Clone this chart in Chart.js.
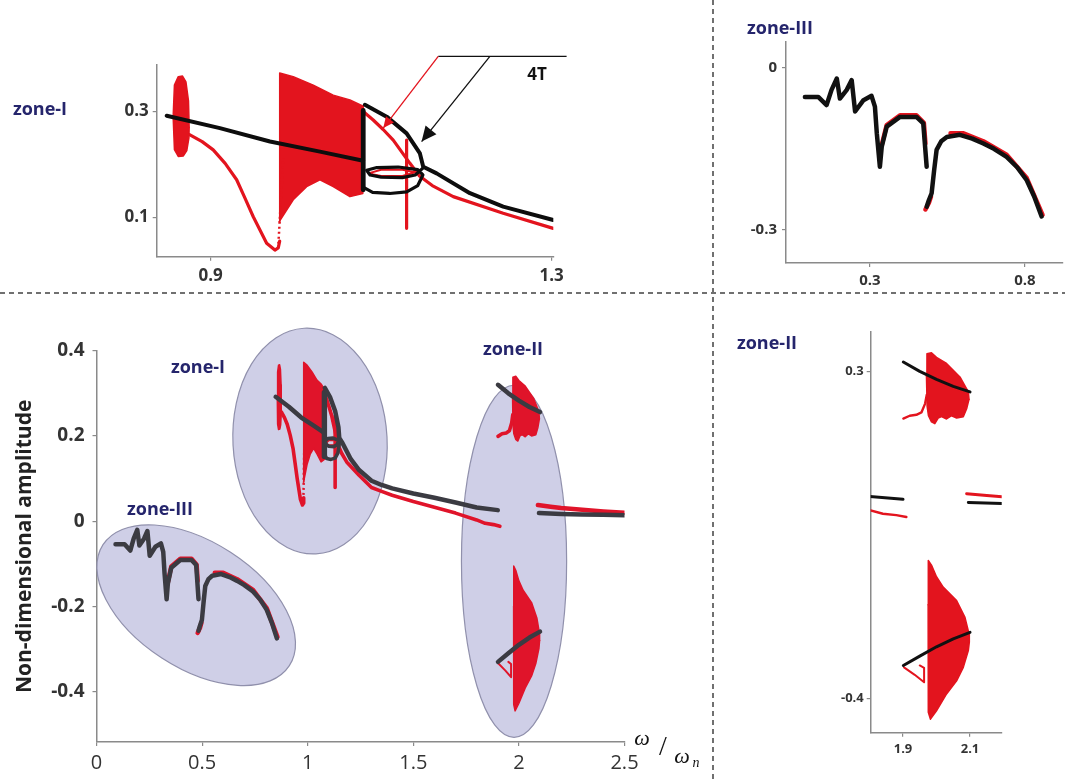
<!DOCTYPE html>
<html>
<head>
<meta charset="utf-8">
<script src="https://cdn.jsdelivr.net/npm/chart.js@4.4.1/dist/chart.umd.min.js"></script>
<style>
  html, body { margin: 0; padding: 0; background: #fff; }
  #page { position: relative; width: 1065px; height: 783px; overflow: hidden; font-family: 'Open Sans', sans-serif; }
  canvas { position: absolute; }
  .zone { position: absolute; transform: translate(-50%, -50%); color: #25256c; font-weight: 700; font-size: 18px; white-space: nowrap; }
  .lbl { position: absolute; transform: translate(-50%, -50%); white-space: nowrap; }
  .omega { font-family: 'Liberation Serif', serif; font-style: italic; color: #111; }
  .dash-h { position: absolute; left: 0; width: 1065px; height: 2px;
            background: repeating-linear-gradient(to right, #707070 0 5px, transparent 5px 9px); }
  .dash-v { position: absolute; top: 0; width: 2px; height: 783px;
            background: repeating-linear-gradient(to bottom, #707070 0 5px, transparent 5px 9px); }
</style>
</head>
<body>
<div id="page">
  <div class="dash-h" style="top:292px"></div>
  <div class="dash-v" style="left:712px"></div>

  <canvas id="mainChart"></canvas>
  <canvas id="zoneIChart"></canvas>
  <canvas id="zoneIIIChart"></canvas>
  <canvas id="zoneIIChart"></canvas>

  <div class="zone" style="left:40px;top:108px">zone-I</div>
  <div class="zone" style="left:780px;top:27px">zone-III</div>
  <div class="zone" style="left:767px;top:342px">zone-II</div>
  <div class="zone" style="left:198px;top:366px">zone-I</div>
  <div class="zone" style="left:160px;top:508px">zone-III</div>
  <div class="zone" style="left:513px;top:348px">zone-II</div>
  <div class="lbl" style="left:537px;top:73px;font-weight:700;font-size:17px;color:#111">4T</div>

  <div class="lbl omega" style="left:642px;top:738px;font-size:22px">ω</div>
  <div class="lbl omega" style="left:663px;top:746px;font-size:28px;font-style:normal">/</div>
  <div class="lbl omega" style="left:682px;top:756px;font-size:22px">ω</div>
  <div class="lbl omega" style="left:696px;top:763px;font-size:14px">n</div>
</div>

<script>
// =========================================
// DATA  (x = ω/ωn, y = non-dimensional amplitude)
// =========================================
// zone-III (low-frequency branch)
const zone3Black = [[0.09,-0.054],[0.133,-0.054],[0.16,-0.069],[0.176,-0.041],[0.193,-0.02],[0.203,-0.057],
  [0.225,-0.041],[0.241,-0.023],[0.252,-0.081],[0.279,-0.060],[0.305,-0.052],[0.316,-0.072],[0.322,-0.121],
  [0.332,-0.183],[0.338,-0.146],[0.354,-0.109],[0.397,-0.091],[0.45,-0.091],[0.472,-0.103],[0.483,-0.183],
  [0.483,null],[0.483,-0.257],[0.49,-0.245],[0.499,-0.232],[0.507,-0.19],[0.515,-0.152],[0.53,-0.136],
  [0.548,-0.128],[0.59,-0.124],[0.63,-0.131],[0.666,-0.140],[0.70,-0.150],[0.741,-0.165],[0.775,-0.184],
  [0.806,-0.208],[0.83,-0.238],[0.854,-0.275]];
const zone3Red = [[0.338,-0.143],[0.354,-0.106],[0.397,-0.088],[0.45,-0.088],[0.474,-0.102],[0.479,-0.14],
  [0.479,null],[0.479,-0.262],[0.49,-0.25],[0.497,-0.238],[0.497,null],[0.56,-0.121],[0.6,-0.121],
  [0.666,-0.136],[0.741,-0.161],[0.806,-0.204],[0.857,-0.272]];

// zone-I (primary resonance)
const zone1Blob1Upper = [[0.856,0.29],[0.8575,0.35],[0.862,0.366],[0.867,0.367],[0.871,0.356],[0.874,0.32],[0.8748,0.27]];
const zone1Blob1Lower = [[0.856,0.29],[0.8575,0.228],[0.862,0.215],[0.868,0.216],[0.872,0.226],[0.8745,0.25],[0.8748,0.27]];
const zone1BandUpper = [[0.9805,0.0917],[0.981,0.3727],[0.9969,0.366],[1.0204,0.35],[1.0438,0.331],[1.0634,0.322],[1.079,0.31]];
const zone1BandLower = [[0.9805,0.0917],[0.9969,0.133],[1.0126,0.158],[1.0282,0.171],[1.0438,0.158],[1.0634,0.139],[1.0785,0.145],[1.079,0.31]];
const zone1Red = [[0.8757,0.256],[0.89,0.243],[0.903,0.2275],[0.917,0.202],[0.9305,0.171],[0.94,0.137],
  [0.95,0.101],[0.9657,0.051],[0.9754,0.038],[0.9793,0.042],[0.981,0.055]];
const zone1RedDots = [[0.9795,0.05],[0.9852,0.212]];
const zone1RedUpper = [[1.079,0.30],[1.0907,0.284],[1.1024,0.266],[1.1142,0.246],[1.1338,0.202],[1.145,0.178],
  [1.16,0.16],[1.1846,0.139],[1.2432,0.1076],[1.3019,0.079],[1.35,0.07],[1.4,0.061],[1.5,0.046],[1.6,0.033],
  [1.7,0.019],[1.8,0.003],[1.84,-0.005],[1.88,-0.008],[1.91,-0.012]];
const zone1RedSpike = [[1.1299,0.246],[1.1299,0.079]];
const zone1RedLoop = [[1.085,0.183],[1.1,0.19],[1.125,0.19],[1.14,0.185],[1.125,0.178],[1.1,0.178],[1.085,0.183]];
const zone1Black = [[0.8484,0.2919],[0.9108,0.2686],[0.9696,0.2432],[1.0282,0.2242],[1.079,0.207]];
const zone1BlackJump = [[1.079,0.302],[1.079,0.152]];
const zone1BlackLoops = [[1.081,0.155],[1.09,0.147],[1.11,0.145],[1.13,0.148],[1.143,0.16],[1.149,0.18],
  [1.143,0.19],[1.12,0.195],[1.095,0.194],[1.083,0.189],[1.087,0.18],[1.1,0.176],[1.125,0.175],[1.14,0.18],[1.149,0.193]];
const zone1BlackUpper = [[1.081,0.3127],[1.1065,0.2903],[1.1299,0.2587],[1.1455,0.2208],[1.1494,0.1956],
  [1.1651,0.183],[1.2042,0.1455],[1.2432,0.12],[1.3019,0.0949],[1.35,0.085],[1.4,0.077],[1.5,0.065],
  [1.6,0.055],[1.7,0.044],[1.8,0.032],[1.9,0.026]];

// zone-II (region near 2)
const zone2TopUpper = [[1.970,0.29],[1.9715,0.338],[1.985,0.34],[2.0,0.33],[2.03,0.317],[2.07,0.288],[2.095,0.256],[2.097,0.24]];
const zone2TopLower = [[1.970,0.29],[1.972,0.225],[1.976,0.205],[1.985,0.192],[1.995,0.188],[2.005,0.2],[2.015,0.203],
  [2.03,0.198],[2.045,0.205],[2.06,0.2],[2.08,0.203],[2.09,0.22],[2.097,0.24]];
const zone2BotUpper = [[1.975,-0.2],[1.9755,-0.105],[1.985,-0.115],[2.0,-0.14],[2.02,-0.162],[2.06,-0.191],
  [2.085,-0.227],[2.097,-0.262],[2.098,-0.28]];
const zone2BotLower = [[1.975,-0.2],[1.9755,-0.43],[1.982,-0.445],[2.0,-0.427],[2.03,-0.391],[2.06,-0.363],
  [2.08,-0.334],[2.095,-0.298],[2.098,-0.28]];
const zone2RedRight = [[2.09,0.038],[2.15,0.034],[2.2,0.031],[2.3,0.027],[2.4,0.023],[2.5,0.02]];
const zone2RedTail = [[1.901,0.199],[1.92,0.205],[1.94,0.207],[1.955,0.212],[1.966,0.231],[1.971,0.25]];
const zone2RedTriangle = [[1.903,-0.334],[1.935,-0.35],[1.963,-0.366],[1.963,-0.335],[1.95,-0.33]];
const zone2BlackRight = [[2.095,0.019],[2.2,0.017],[2.3,0.016],[2.4,0.015],[2.5,0.014]];
const zone2BlackTop = [[1.901,0.32],[1.95,0.30],[2.0,0.283],[2.05,0.268],[2.1,0.256]];
const zone2BlackBottom = [[1.901,-0.33],[1.95,-0.31],[2.0,-0.29],[2.05,-0.273],[2.1,-0.259]];

// shaded zones on the overview plot: centre in data units, half-axes in axis units, tilt in degrees
const zoneEllipses = [
  { cx: 0.472, cy: -0.197, rx: 0.526, ry: 0.148, rot: 33 },
  { cx: 1.011, cy: 0.188, rx: 0.365, ry: 0.265, rot: -3 },
  { cx: 1.977, cy: -0.094, rx: 0.249, ry: 0.413, rot: 0 }
];

// 4T callout on the zone-I zoom
const calloutLine = [[1.167,0.4042],[1.3176,0.4042]];
const redArrow = [[1.167,0.4042],[1.1025,0.2686]];
const blackArrow = [[1.2276,0.4042],[1.1475,0.2432]];

// tick labels
const mainXTicks = [0, 0.5, 1, 1.5, 2, 2.5];
const mainYTicks = [-0.4, -0.2, 0, 0.2, 0.4];
const zoneIXTicks = [0.9, 1.3];
const zoneIYTicks = [0.1, 0.3];
const zoneIIIXTicks = [0.3, 0.8];
const zoneIIIYTicks = [-0.3, 0];
const zoneIIXTicks = [1.9, 2.1];
const zoneIIYTicks = [-0.4, 0.3];

// =========================================
// HELPERS
// =========================================
const RED = '#e3141e';
const FONT = "'Open Sans', sans-serif";

const pts = arr => arr.map(([x, y]) => ({ x, y }));

function line(arr, color, width, extra) {
  return Object.assign({
    data: pts(arr), borderColor: color, backgroundColor: color, borderWidth: width,
    pointRadius: 0, tension: 0, fill: false, borderJoinStyle: 'round', borderCapStyle: 'round'
  }, extra || {});
}

function blob(upper, lower, color) {
  return [line(upper, color, 1.5), line(lower, color, 1.5, { fill: '-1' })];
}

// Chart.js paints the last dataset first, so black goes first (on top) and the red bands last
function curveSets(red, black, w) {
  return [
    line(zone3Black, black, w),
    line(zone2BlackBottom, black, w),
    line(zone2BlackTop, black, w),
    line(zone2BlackRight, black, w),
    line(zone1BlackUpper, black, w),
    line(zone1BlackLoops, black, w * 0.8),
    line(zone1BlackJump, black, w * 1.2),
    line(zone1Black, black, w),
    line(zone3Red, red, w),
    line(zone2RedTriangle, red, 2),
    line(zone2RedTail, red, w * 0.8),
    line(zone2RedRight, red, w),
    line(zone1RedLoop, red, 2),
    line(zone1RedSpike, red, w * 0.8),
    line(zone1RedUpper, red, w * 0.8),
    line(zone1RedDots, red, 2.5, { borderDash: [2, 3], borderCapStyle: 'butt' }),
    line(zone1Red, red, w * 0.8),
    ...blob(zone2BotUpper, zone2BotLower, red),
    ...blob(zone2TopUpper, zone2TopLower, red),
    ...blob(zone1BandUpper, zone1BandLower, red),
    ...blob(zone1Blob1Upper, zone1Blob1Lower, red)
  ];
}

function axis(min, max, ticks, size, font, pad, extra) {
  return Object.assign({
    type: 'linear', min, max,
    afterBuildTicks: s => { s.ticks = ticks.map(v => ({ value: v })); },
    afterFit: s => {
      if (s.isHorizontal()) s.height = size; else s.width = size;
      s.paddingLeft = s.paddingRight = s.paddingTop = s.paddingBottom = 0;
    },
    grid: { drawOnChartArea: false, drawTicks: true, tickLength: 4, color: '#8a8a8a', lineWidth: 1.2 },
    border: { display: true, color: '#8a8a8a', width: 1.5 },
    ticks: { font, color: '#333', padding: pad, maxRotation: 0, autoSkip: false, callback: v => String(v) }
  }, extra || {});
}

function makeChart(id, rect, area, xCfg, yCfg, datasets, plugins) {
  const cv = document.getElementById(id);
  cv.width = rect.w; cv.height = rect.h;
  cv.style.left = rect.x + 'px'; cv.style.top = rect.y + 'px';
  const xs = axis(xCfg.min, xCfg.max, xCfg.ticks, rect.y + rect.h - area.bottom, xCfg.font, xCfg.pad);
  const ys = axis(yCfg.min, yCfg.max, yCfg.ticks, area.left - rect.x, yCfg.font, yCfg.pad, yCfg.extra);
  return new Chart(cv, {
    type: 'line',
    data: { datasets },
    options: {
      responsive: false, animation: false, events: [],
      layout: { padding: { left: 0, top: area.top - rect.y, right: rect.x + rect.w - area.right, bottom: 0 } },
      plugins: { legend: { display: false }, tooltip: { enabled: false } },
      scales: { x: xs, y: ys }
    },
    plugins: plugins || []
  });
}

const ellipsePlugin = {
  id: 'zoneEllipses',
  beforeDatasetsDraw(chart) {
    const { ctx, scales: { x, y } } = chart;
    const pxX = Math.abs(x.getPixelForValue(1) - x.getPixelForValue(0));
    const pxY = Math.abs(y.getPixelForValue(0) - y.getPixelForValue(1));
    ctx.save();
    zoneEllipses.forEach(e => {
      ctx.beginPath();
      ctx.ellipse(x.getPixelForValue(e.cx), y.getPixelForValue(e.cy), e.rx * pxX, e.ry * pxY,
        e.rot * Math.PI / 180, 0, 2 * Math.PI);
      ctx.fillStyle = '#cfcfe7';
      ctx.fill();
      ctx.strokeStyle = '#9090ac';
      ctx.lineWidth = 1.2;
      ctx.stroke();
    });
    ctx.restore();
  }
};

function drawArrow(ctx, from, to, color, len, half) {
  const ang = Math.atan2(to[1] - from[1], to[0] - from[0]);
  ctx.strokeStyle = color; ctx.fillStyle = color;
  ctx.beginPath(); ctx.moveTo(from[0], from[1]); ctx.lineTo(to[0], to[1]); ctx.stroke();
  ctx.beginPath();
  ctx.moveTo(to[0], to[1]);
  ctx.lineTo(to[0] - len * Math.cos(ang) + half * Math.sin(ang), to[1] - len * Math.sin(ang) - half * Math.cos(ang));
  ctx.lineTo(to[0] - len * Math.cos(ang) - half * Math.sin(ang), to[1] - len * Math.sin(ang) + half * Math.cos(ang));
  ctx.closePath(); ctx.fill();
}

const calloutPlugin = {
  id: 'callout4T',
  afterDatasetsDraw(chart) {
    const { ctx, scales: { x, y } } = chart;
    const P = ([a, b]) => [x.getPixelForValue(a), y.getPixelForValue(b)];
    ctx.save();
    ctx.lineWidth = 1.3;
    const a = P(calloutLine[0]), b = P(calloutLine[1]);
    ctx.strokeStyle = '#111';
    ctx.beginPath(); ctx.moveTo(a[0], a[1]); ctx.lineTo(b[0], b[1]); ctx.stroke();
    drawArrow(ctx, P(redArrow[0]), P(redArrow[1]), RED, 11, 5);
    drawArrow(ctx, P(blackArrow[0]), P(blackArrow[1]), '#111', 15, 7);
    ctx.restore();
  }
};

// =========================================
// CHARTS
// =========================================
// overview
makeChart('mainChart',
  { x: 0, y: 300, w: 705, h: 483 },
  { left: 96.5, top: 350.7, right: 624.5, bottom: 742 },
  { min: 0, max: 2.5, ticks: mainXTicks, font: { family: FONT, size: 20 }, pad: 5 },
  { min: -0.518, max: 0.4, ticks: mainYTicks, font: { family: FONT, size: 19, weight: 'bold' }, pad: 8,
    extra: { title: { display: true, text: 'Non-dimensional amplitude', color: '#222',
      font: { family: FONT, size: 21, weight: 'bold' }, padding: { top: 12, bottom: 0 } } } },
  curveSets('#e0142a', '#3b3b42', 4.5),
  [ellipsePlugin]);

// zone-I zoom
makeChart('zoneIChart',
  { x: 0, y: 0, w: 600, h: 291 },
  { left: 156.7, top: 65, right: 553.3, bottom: 256.7 },
  { min: 0.8367, max: 1.302, ticks: zoneIXTicks, font: { family: FONT, size: 17, weight: 'bold' }, pad: 5 },
  { min: 0.0254, max: 0.388, ticks: zoneIYTicks, font: { family: FONT, size: 17, weight: 'bold' }, pad: 4 },
  curveSets(RED, '#0d0d0d', 4),
  [calloutPlugin]);

// zone-III zoom
makeChart('zoneIIIChart',
  { x: 715, y: 0, w: 350, h: 290 },
  { left: 786, top: 42, right: 1063, bottom: 263 },
  { min: 0.029, max: 0.923, ticks: zoneIIIXTicks, font: { family: FONT, size: 15, weight: 'bold' }, pad: 5 },
  { min: -0.361, max: 0.0475, ticks: zoneIIIYTicks, font: { family: FONT, size: 15, weight: 'bold' }, pad: 5 },
  curveSets(RED, '#111', 4.5));

// zone-II zoom
makeChart('zoneIIChart',
  { x: 715, y: 293, w: 350, h: 490 },
  { left: 870.7, top: 331.7, right: 1001.7, bottom: 732.7 },
  { min: 1.8036, max: 2.1946, ticks: zoneIIXTicks, font: { family: FONT, size: 13, weight: 'bold' }, pad: 5 },
  { min: -0.474, max: 0.385, ticks: zoneIIYTicks, font: { family: FONT, size: 13, weight: 'bold' }, pad: 3 },
  curveSets(RED, '#111', 3));
</script>
</body>
</html>
